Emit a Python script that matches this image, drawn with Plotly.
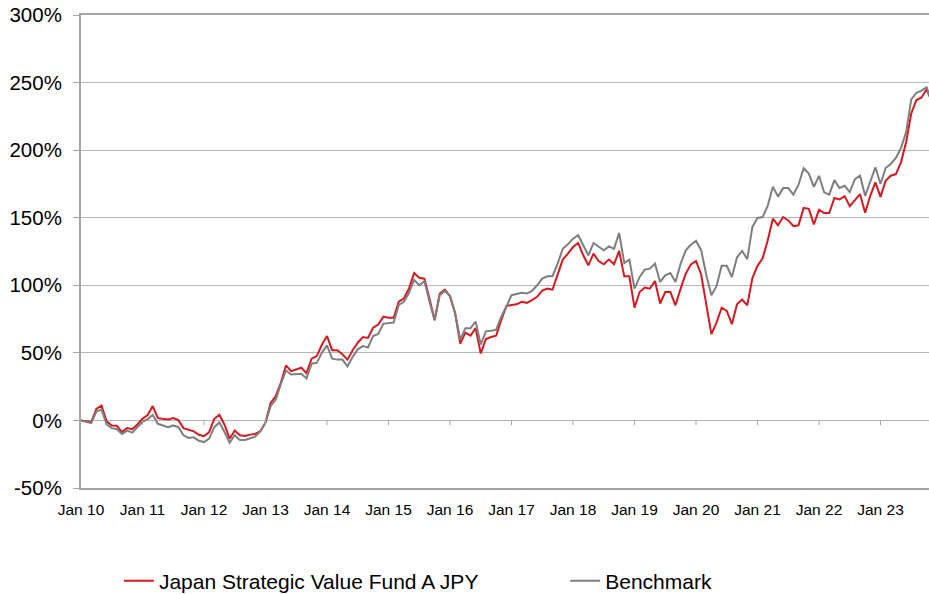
import plotly.graph_objects as go

tick_labels = ["Jan 10", "Jan 11", "Jan 12", "Jan 13", "Jan 14", "Jan 15", "Jan 16",
               "Jan 17", "Jan 18", "Jan 19", "Jan 20", "Jan 21", "Jan 22", "Jan 23"]
y_tick_vals = [-50, 0, 50, 100, 150, 200, 250, 300]
y_tick_text = ["-50%", "0%", "50%", "100%", "150%", "200%", "250%", "300%"]

fund_name = "Japan Strategic Value Fund A JPY"
bench_name = "Benchmark"

fund = [0, -0.5, -1.2, 8.6, 11, -0.7, -3.7, -4, -8.6, -5.6, -6.5, -3,
        1.2, 4, 10.6, 1.7, 1.2, 0.7, 1.7, 0.2, -5.7, -6.9, -8.1, -10.6,
        -11.6, -8.7, 1.2, 4.2, -3.2, -13.6, -7.5, -11, -11.5, -10.5, -10, -8,
        -1.7, 13, 18, 28, 40.7, 36.5, 37.7, 39, 35, 45.7, 47.6, 56,
        62.4, 52, 52, 49, 45, 51.9, 57.5, 61.7, 61, 68.6, 71, 76.8,
        76, 76, 87.8, 90.2, 97.6, 109, 105.6, 104.9, 90, 74.4, 93.9, 96.8,
        92, 79.3, 56.8, 65, 62.7, 68.3, 49.5, 60.2, 61.7, 62.7, 74.4, 84.6,
        85.4, 85.9, 87.8, 87, 89, 91.5, 96, 97.5, 96.8, 107.4, 119, 123.4,
        128.3, 131.3, 122.2, 114.8, 123.4, 118, 115.5, 119, 115.5, 125.4, 106.6, 106.6,
        83.5, 95, 98.3, 97.5, 103.2, 86.5, 95, 95, 85.2, 97.5, 108.6, 115.5,
        118, 108, 87, 63.9, 72.4, 83.4, 81, 71.2, 85.9, 89.5, 85.1, 105.4,
        114.4, 120, 133.4, 149.3, 144.4, 150.5, 148, 143.7, 144.4, 157.3, 156.6, 145.1,
        155.9, 153.4, 153.4, 164.6, 163.5, 166, 158.5, 163, 167.4, 153.7, 166.2, 176.1,
        165.4, 177.4, 181.1, 182.3, 191, 206, 227.1, 237.1, 239, 245, 236]

bench = [0, -1, -2, 6.5, 8, -3, -5.7, -6.5, -10, -7.5, -9, -5,
         -1, 1, 4, -2.5, -4, -5, -3.7, -5, -11, -13, -12.5, -15,
         -16, -13.5, -5, -1.5, -8.6, -16.5, -11, -14.5, -14.5, -13.5, -12, -8,
         -1.5, 10.6, 15.5, 27, 37, 34, 34, 34.5, 31, 42, 42.6, 50,
         55.5, 45.7, 45, 45, 40, 47, 52.6, 55, 54, 62.4, 64, 71.6,
         72, 72.4, 85.4, 87.8, 94.4, 104, 100, 103, 88, 73.9, 92.7, 95.9,
         92, 79.3, 59.8, 68.3, 68.3, 73.2, 56.1, 65.9, 66.3, 67, 76.8, 84.1,
         92.7, 93.4, 94.4, 93.9, 95.9, 100, 105, 106.7, 106.7, 116, 127, 130.3,
         134.5, 137, 129.6, 122.2, 131.3, 128.3, 125.9, 128.8, 127, 138.7, 116.5, 119,
         97.5, 106.2, 111.6, 112.3, 116, 102.5, 107.4, 109.1, 102.5, 116, 125.9, 130,
         133, 126, 107.8, 92.7, 99.3, 114.4, 114.4, 106.1, 120.7, 125.4, 119.3, 143.2,
         149.8, 150.5, 159, 172.9, 165.6, 171.9, 171.9, 167.1, 174.4, 186.6, 182.7, 172.9,
         181, 168.8, 167.1, 177.8, 172, 173.6, 169, 178.6, 181.1, 166.2, 176.1, 187.3,
         174.9, 186.8, 189.8, 194.3, 201.7, 213.4, 237.6, 242.5, 244, 246.5, 236]

x = list(range(len(fund)))
tick_vals = [12 * k for k in range(len(tick_labels))]

FONT = "Arial, Liberation Sans, sans-serif"
RED = "#D7191F"
GREY = "#7F7F7F"
AXIS = "#A6A6A6"
GRID = "#B7B7B7"

fig = go.Figure()
fig.add_trace(go.Scatter(x=x, y=fund, mode="lines", name=fund_name,
                         line=dict(color=RED, width=2), legend="legend"))
fig.add_trace(go.Scatter(x=x, y=bench, mode="lines", name=bench_name,
                         line=dict(color=GREY, width=2), legend="legend2"))

# small tick marks hanging below the 0% line (category axis crosses at 0)
for tv in tick_vals[1:]:
    fig.add_shape(type="line", xref="x", yref="y", x0=tv, x1=tv, y0=0, y1=-3.5,
                  line=dict(color=AXIS, width=1))

legend_common = dict(orientation="h", y=-0.1966, xanchor="left", yanchor="middle",
                     font=dict(size=21, family=FONT, color="black"),
                     bgcolor="rgba(0,0,0,0)")

fig.update_layout(
    width=929, height=594, autosize=False,
    margin=dict(l=81, r=0, t=15, b=106, autoexpand=False),
    plot_bgcolor="white", paper_bgcolor="white",
    font=dict(family=FONT, color="black"),
    showlegend=True,
    legend=dict(x=0.0447, **legend_common),
    legend2=dict(x=0.571, **legend_common),
    xaxis=dict(range=[0, 165.46], tickmode="array", tickvals=tick_vals, ticktext=tick_labels,
               showgrid=False, zeroline=False, showline=True, linecolor=AXIS, linewidth=2,
               mirror=True, ticks="", ticklabelstandoff=6, automargin=False,
               tickfont=dict(size=15.5, family=FONT, color="black")),
    yaxis=dict(range=[-50, 300], tickmode="array", tickvals=y_tick_vals, ticktext=y_tick_text,
               showgrid=True, gridcolor=GRID, gridwidth=1, zeroline=False,
               showline=True, linecolor=AXIS, linewidth=2,
               ticks="outside", ticklen=6, tickcolor=AXIS, ticklabelstandoff=7,
               automargin=False,
               tickfont=dict(size=20.5, family=FONT, color="black")),
)

post = ("document.body.style.margin='0';document.body.style.padding='0';"
        "document.documentElement.style.overflow='hidden';"
        "var gd=document.getElementById('{plot_id}');"
        "gd.style.width='929px';gd.style.height='594px';"
        "Plotly.relayout(gd,{width:929,height:594});")

fig.write_html("out.html", post_script=post,
               config={"responsive": False, "displayModeBar": False})
